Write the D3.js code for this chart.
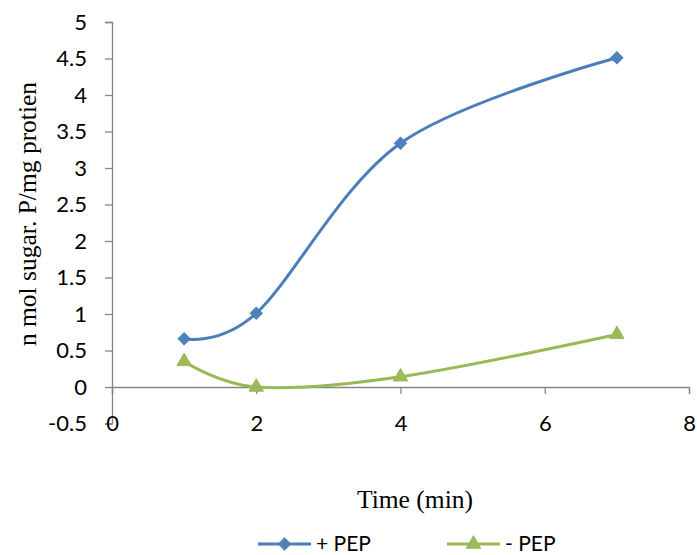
<!DOCTYPE html>
<html>
<head>
<meta charset="utf-8">
<script src="https://cdn.jsdelivr.net/npm/d3@7"></script>
<style>
  html, body { margin: 0; padding: 0; background: #fff; }
  svg { display: block; }
</style>
</head>
<body>
<svg id="chart" width="697" height="555"></svg>
<script>
// ---- data ----
const times = [1, 2, 4, 7];
const plusPEP = [0.66, 1.01, 3.34, 4.51];
const minusPEP = [0.35, 0.0, 0.14, 0.72];
const seriesNames = ["+ PEP", "- PEP"];
const xTicks = [0, 2, 4, 6, 8];
const yTicks = [-0.5, 0, 0.5, 1, 1.5, 2, 2.5, 3, 3.5, 4, 4.5, 5];
const xTitle = "Time (min)";
const yTitle = "n mol sugar. P/mg protien";

// ---- setup ----
const svg = d3.select("#chart");
const x = d3.scaleLinear().domain([0, 8]).range([112, 689]);
const y = d3.scaleLinear().domain([-0.5, 5]).range([423.5, 22]);
const axisColor = "#868686";
const tickFont = "Lato, 'Open Sans', sans-serif";
const titleFont = "'Liberation Serif', 'Times New Roman', serif";
const blue = "#4A7EBB", blueMarker = "#4F81BD";
const green = "#98B954", greenMarker = "#9BBB59";

// y axis
const gy = svg.append("g")
  .attr("transform", `translate(${x(0)},0)`)
  .call(d3.axisLeft(y).tickValues(yTicks).tickSize(7).tickPadding(18)
    .tickFormat(d => String(d)));
gy.select(".domain").attr("stroke", axisColor).attr("stroke-width", 1.3);
gy.selectAll(".tick line").attr("stroke", axisColor).attr("stroke-width", 1.3);
gy.selectAll(".tick text").attr("fill", "#000").style("font-family", tickFont).style("font-size", "22px");

// x axis at y=0
const gx = svg.append("g")
  .attr("transform", `translate(0,${y(0)})`)
  .call(d3.axisBottom(x).tickValues(xTicks).tickSize(7).tickSizeOuter(7)
    .tickFormat(d => String(d)));
gx.select(".domain").attr("stroke", axisColor).attr("stroke-width", 1.3);
gx.selectAll(".tick line").attr("stroke", axisColor).attr("stroke-width", 1.3);
gx.selectAll(".tick text")
  .attr("fill", "#000")
  .attr("y", y(-0.5) - y(0))
  .attr("dy", "0.35em")
  .style("font-family", tickFont).style("font-size", "22px");

// lines
const line = d3.line().x(d => x(d[0])).y(d => y(d[1])).curve(d3.curveCardinal.tension(0));
const plusData = times.map((t, i) => [t, plusPEP[i]]);
const minusData = times.map((t, i) => [t, minusPEP[i]]);

svg.append("path").datum(plusData).attr("d", line)
  .attr("fill", "none").attr("stroke", blue).attr("stroke-width", 3).attr("stroke-linejoin", "round");
svg.append("path").datum(minusData).attr("d", line)
  .attr("fill", "none").attr("stroke", green).attr("stroke-width", 3).attr("stroke-linejoin", "round");

const diamond = d3.symbol().type(d3.symbolSquare).size(72);
const tri = d3.symbol().type(d3.symbolTriangle).size(90);

svg.append("g").selectAll("path").data(plusData).join("path")
  .attr("d", diamond)
  .attr("transform", d => `translate(${x(d[0])},${y(d[1])}) rotate(45)`)
  .attr("fill", blueMarker).attr("stroke", blue).attr("stroke-width", 1);
svg.append("g").selectAll("path").data(minusData).join("path")
  .attr("d", tri)
  .attr("transform", d => `translate(${x(d[0])},${y(d[1])})`)
  .attr("fill", greenMarker).attr("stroke", green).attr("stroke-width", 1);

// axis titles
svg.append("text")
  .attr("x", 415).attr("y", 508)
  .attr("text-anchor", "middle")
  .style("font-family", titleFont)
  .style("font-size", "25.5px")
  .text(xTitle);

svg.append("text")
  .attr("transform", `translate(36,214) rotate(-90)`)
  .attr("text-anchor", "middle")
  .style("font-family", titleFont)
  .style("font-size", "25.5px")
  .text(yTitle);

// legend
const legend = [
  { name: seriesNames[0], color: blue, fill: blueMarker, sym: diamond, rot: 45, x0: 258 },
  { name: seriesNames[1], color: green, fill: greenMarker, sym: tri, rot: 0, x0: 447 }
];
const ly = 544;
legend.forEach(l => {
  const g = svg.append("g");
  g.append("line").attr("x1", l.x0).attr("x2", l.x0 + 53).attr("y1", ly).attr("y2", ly)
    .attr("stroke", l.color).attr("stroke-width", 3);
  g.append("path").attr("d", l.sym)
    .attr("transform", `translate(${l.x0 + 26.5},${ly}) rotate(${l.rot})`)
    .attr("fill", l.fill).attr("stroke", l.color).attr("stroke-width", 1);
  g.append("text").attr("x", l.x0 + 58).attr("y", 551)
    .style("font-family", tickFont).style("font-size", "21px")
    .text(l.name);
});
</script>
</body>
</html>
